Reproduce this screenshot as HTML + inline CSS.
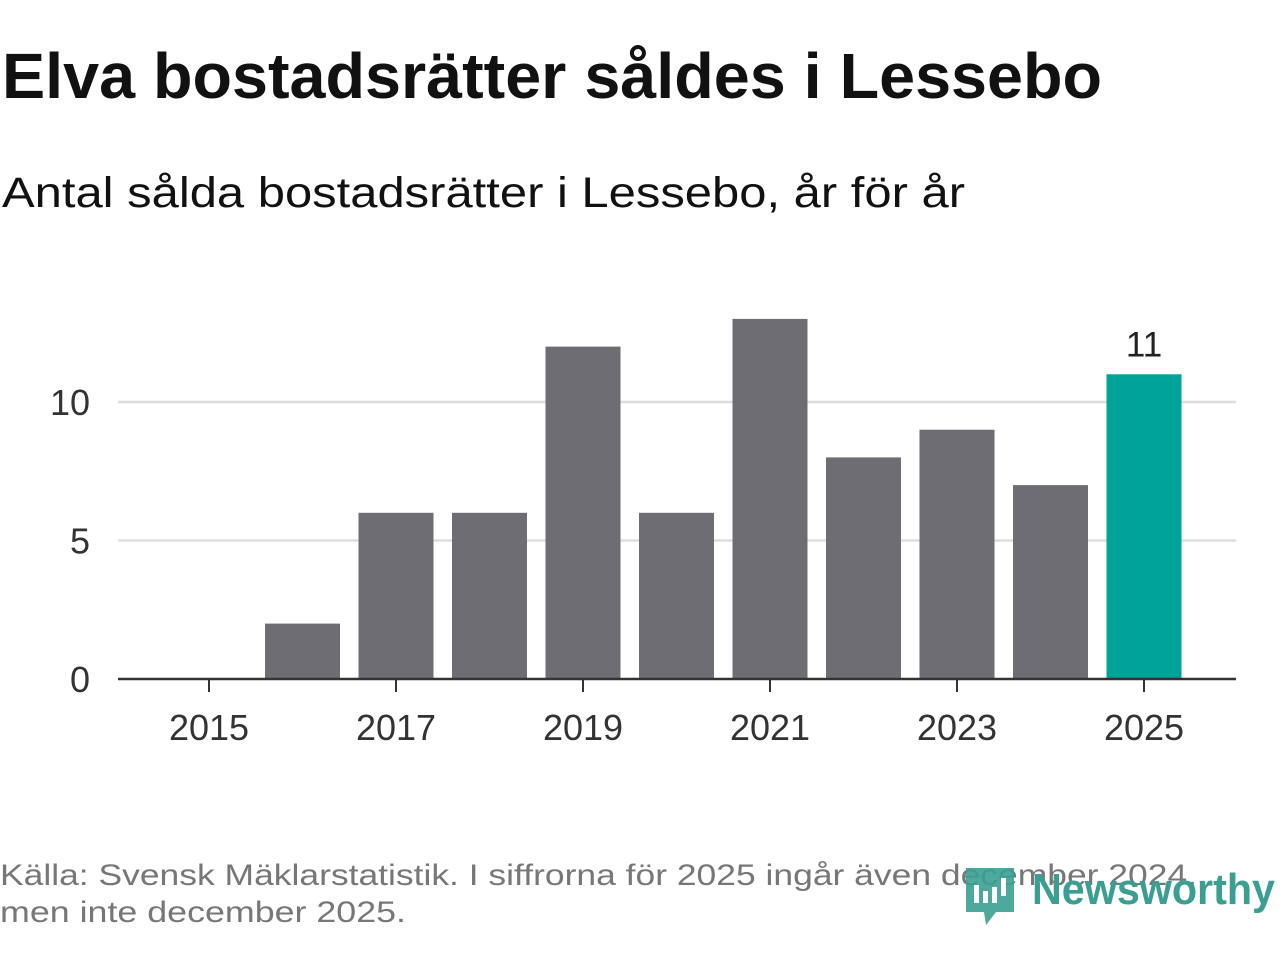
<!DOCTYPE html>
<html><head><meta charset="utf-8"><style>
html,body{margin:0;padding:0;background:#fff;}
svg{display:block;font-family:"Liberation Sans",sans-serif;}
</style></head><body>
<svg id="chart" width="1280" height="960" viewBox="0 0 1280 960">
<text x="2" y="98" font-size="64" font-weight="bold" fill="#111" textLength="1100" lengthAdjust="spacingAndGlyphs">Elva bostadsrätter såldes i Lessebo</text>
<text x="2" y="207" font-size="43" fill="#111" textLength="963" lengthAdjust="spacingAndGlyphs">Antal sålda bostadsrätter i Lessebo, år för år</text>
<g id="grid"></g>
<g id="bars"></g>
<g id="xaxis"></g>
<text x="0" y="885" font-size="30" fill="#777" textLength="1197" lengthAdjust="spacingAndGlyphs">Källa: Svensk Mäklarstatistik. I siffrorna för 2025 ingår även december 2024,</text>
<text x="0" y="922" font-size="30" fill="#777" textLength="406" lengthAdjust="spacingAndGlyphs">men inte december 2025.</text>
<g>
<path d="M966 868 h48 v44 h-18 l-10 13 l-2 -13 h-18 z" fill="#3a9f92" opacity="0.9"/>
<rect x="974" y="885" width="5" height="18" fill="#fff"/>
<rect x="983" y="891" width="5" height="12" fill="#fff"/>
<rect x="992" y="887" width="5" height="16" fill="#fff"/>
<rect x="1001" y="878" width="5" height="18" fill="#fff"/>
<text x="1032" y="904" font-size="44" font-weight="bold" fill="#3a9f92" textLength="243" lengthAdjust="spacingAndGlyphs">Newsworthy</text>
</g>
</svg>
<script>
const years = [2015,2016,2017,2018,2019,2020,2021,2022,2023,2024,2025];
const values = [0,2,6,6,12,6,13,8,9,7,11];
const yTicks = [0,5,10];
const xTickYears = [2015,2017,2019,2021,2023,2025];
const NS='http://www.w3.org/2000/svg';
const x0=209, step=93.5, barW=75, yZero=679, pxPerUnit=27.7;
const xs = y => x0 + (y-2015)*step;
const ys = v => yZero - v*pxPerUnit;
function mk(tag, attrs, parent){const e=document.createElementNS(NS,tag);for(const k in attrs)e.setAttribute(k,attrs[k]);parent.appendChild(e);return e;}
const grid=document.getElementById('grid'), bars=document.getElementById('bars'), xa=document.getElementById('xaxis');
yTicks.forEach(t=>{
  if(t>0){const l=mk('line',{x1:118,x2:1236,y1:ys(t),y2:ys(t),stroke:'#ddd','stroke-width':2.5},grid);
  
  }
  const tx=mk('text',{x:90,y:ys(t)+13,'font-size':36,fill:'#333','text-anchor':'end'},grid);
  tx.textContent=t;
  
  
});
years.forEach((yr,i)=>{
  const v=values[i];
  const last=i===years.length-1;
  const r=mk('rect',{x:xs(yr)-barW/2,y:ys(v),width:barW,height:v*pxPerUnit,fill:last?'#00a398':'#6e6d73'},bars);
  
  
  if(last){const t=mk('text',{x:xs(yr),y:ys(v)-18,'font-size':35,fill:'#222','text-anchor':'middle'},bars);
  t.textContent=v;
  
  }
});
const ax=mk('line',{x1:118,x2:1236,y1:yZero,y2:yZero,stroke:'#333','stroke-width':2.5},xa);


xTickYears.forEach(yr=>{
  const tk=mk('line',{x1:xs(yr),x2:xs(yr),y1:yZero,y2:yZero+13,stroke:'#333','stroke-width':2},xa);
  
  
  const t=mk('text',{x:xs(yr),y:740,'font-size':36,fill:'#333','text-anchor':'middle'},xa);
  t.textContent=yr;
  
  
});
</script>
</body></html>
